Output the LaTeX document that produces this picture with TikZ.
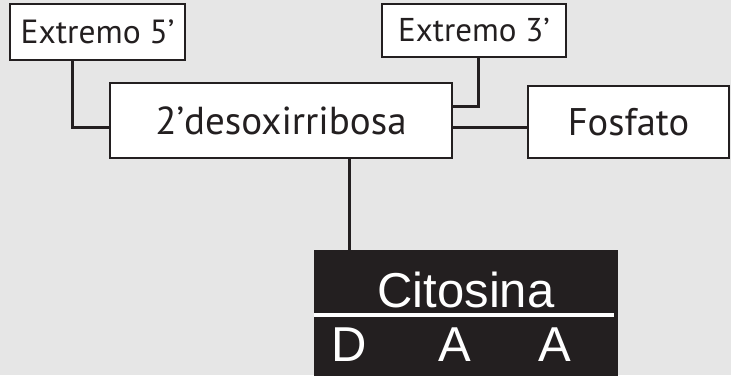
\documentclass[tikz,border=0pt]{standalone}
\usepackage{fontspec}
\setmainfont{PT Sans}
\newfontfamily\labelsans{Liberation Sans}
\definecolor{bggray}{RGB}{230,230,230}
\definecolor{inkblack}{RGB}{35,31,32}
\begin{document}
\begin{tikzpicture}[x=1pt,y=-1pt,
  labelbox/.style={draw=inkblack,line width=2pt,fill=white,inner sep=0pt,anchor=center,text=inkblack},
  link/.style={draw=inkblack,line width=3pt},
  baselabel/.style={text=white,font=\labelsans\fontsize{49}{54}\selectfont,anchor=base,inner sep=0pt}]
\fill[bggray] (0,0) rectangle (731,375);
\useasboundingbox (0,0) rectangle (731,375);

% labelled boxes
\node[labelbox,minimum width=175pt,minimum height=56pt,font=\fontsize{33.5}{38}\selectfont] (e5) at (97.5,32) {Extremo 5’};
\node[labelbox,minimum width=184pt,minimum height=53pt,font=\fontsize{33}{38}\selectfont] (e3) at (474,30.5) {Extremo 3’};
\node[labelbox,minimum width=342pt,minimum height=75pt,font=\fontsize{39}{44}\selectfont] (desox) at (281,120.5) {2’desoxirribosa};
\node[labelbox,minimum width=201pt,minimum height=72pt,font=\fontsize{38.5}{44}\selectfont] (fos) at (628.5,122) {Fosfato};

% base block, running off the lower edge
\node[fill=inkblack,draw=inkblack,minimum width=303pt,minimum height=140pt,inner sep=0pt,anchor=north] (cit) at (465.5,250) {};
\node[baselabel] (citname) at (466,307) {Citosina};
\draw[white,line width=4pt] (cit.west |- 0,315) coordinate (sepL) -- (614,315) coordinate (sepR);
\node[baselabel] (d) at (349,361) {D};
\node[baselabel] (a1) at (455,361) {A};
\node[baselabel] (a2) at (555,361) {A};

% connectors
\draw[link] ([xshift=-25.5pt]e5.south) |- ([yshift=-6.5pt]desox.west);
\draw[link] ([xshift=4pt]e3.south) |- ([yshift=14.5pt]desox.east);
\draw[link] ([yshift=-6.5pt]desox.east) -- ([yshift=-6.5pt]desox.east -| fos.west);
\draw[link] ([xshift=68pt]desox.south) -- ([xshift=68pt]desox.south |- cit.north);
\end{tikzpicture}
\end{document}
